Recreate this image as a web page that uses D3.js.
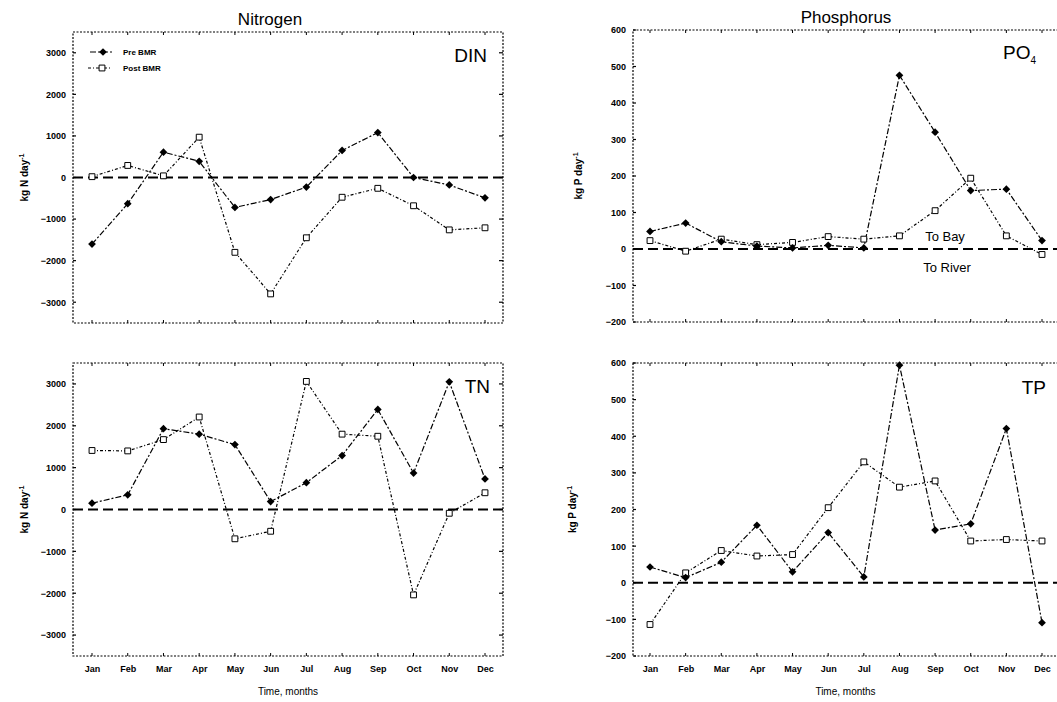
<!DOCTYPE html>
<html>
<head>
<meta charset="utf-8">
<script src="https://cdn.jsdelivr.net/npm/d3@7"></script>
<style>
  body { margin: 0; background: #fff; }
  svg { font-family: "Liberation Sans", Arial, sans-serif; }
  .tick-label { font-size: 9px; font-weight: bold; }
</style>
</head>
<body>
<svg id="chart" width="1057" height="702"></svg>
<script>
// months on the x axis
var months = ["Jan", "Feb", "Mar", "Apr", "May", "Jun", "Jul", "Aug", "Sep", "Oct", "Nov", "Dec"];

// y tick values
var nTicks = [-3000, -2000, -1000, 0, 1000, 2000, 3000];
var pTicks = [-200, -100, 0, 100, 200, 300, 400, 500, 600];

// DIN, kg N/day
var dinPre  = [-1600, -630, 610, 390, -720, -530, -230, 650, 1080, 0, -180, -490];
var dinPost = [20, 290, 40, 970, -1800, -2800, -1450, -475, -260, -680, -1260, -1210];

// TN, kg N/day
var tnPre  = [150, 350, 1930, 1800, 1550, 190, 640, 1290, 2390, 870, 3050, 730];
var tnPost = [1410, 1400, 1670, 2210, -700, -520, 3060, 1800, 1750, -2040, -90, 400];

// PO4, kg P/day
var po4Pre  = [48, 71, 20, 8, 3, 10, 3, 476, 320, 160, 164, 23];
var po4Post = [23, -6, 27, 12, 18, 34, 27, 36, 105, 194, 36, -15];

// TP, kg P/day
var tpPre  = [43, 14, 56, 157, 30, 137, 16, 594, 144, 161, 421, -109];
var tpPost = [-114, 27, 88, 73, 77, 205, 330, 261, 278, 114, 118, 114];

var legendNames = ["Pre BMR", "Post BMR"];

var svg = d3.select("#chart");

// titles
svg.append("text").attr("x", 270).attr("y", 25).attr("text-anchor", "middle")
  .style("font-size", "17px").text("Nitrogen");
svg.append("text").attr("x", 846).attr("y", 23).attr("text-anchor", "middle")
  .style("font-size", "17px").text("Phosphorus");

var panels = [
  { box: [73, 32, 503, 323], xr: [92, 485], yd: [-3500, 3500], ticks: nTicks,
    pre: dinPre, post: dinPost, label: "DIN", labelPos: [487, 62], unit: "N",
    yLabelX: 28, xLabels: false, legend: true },
  { box: [73, 363, 503, 656], xr: [92, 485], yd: [-3500, 3500], ticks: nTicks,
    pre: tnPre, post: tnPost, label: "TN", labelPos: [490, 393], unit: "N",
    yLabelX: 28, xLabels: true },
  { box: [633, 30, 1062, 322], xr: [650, 1042], yd: [-200, 600], ticks: pTicks,
    pre: po4Pre, post: po4Post, label: "PO", sub: "4", labelPos: [1036, 59], unit: "P",
    yLabelX: 582, xLabels: false, bayRiver: true },
  { box: [633, 363, 1062, 656], xr: [650, 1042], yd: [-200, 600], ticks: pTicks,
    pre: tpPre, post: tpPost, label: "TP", labelPos: [1046, 394], unit: "P",
    yLabelX: 576, xLabels: true }
];

panels.forEach(drawPanel);

function drawPanel(p) {
  var x0 = p.box[0], y0 = p.box[1], x1 = p.box[2], y1 = p.box[3];
  var g = svg.append("g");

  var x = d3.scalePoint().domain(months).range(p.xr);
  var y = d3.scaleLinear().domain(p.yd).range([y1, y0]);

  // dotted frame
  g.append("rect")
    .attr("x", x0).attr("y", y0).attr("width", x1 - x0).attr("height", y1 - y0)
    .attr("fill", "none").attr("stroke", "#000").attr("stroke-width", 1.2)
    .attr("stroke-dasharray", "2,1.5");

  // y axis (left) + inward ticks on the right
  var yAxis = d3.axisLeft(y).tickValues(p.ticks).tickFormat(d3.format("d")).tickSize(0).tickPadding(7);
  var ya = g.append("g").attr("transform", "translate(" + x0 + ",0)").call(yAxis);
  ya.select(".domain").remove();
  ya.selectAll("text").attr("class", "tick-label").style("font-family", null).style("font-size", null);
  g.selectAll(".rtick").data(p.ticks).enter().append("line")
    .attr("x1", x1 - 4).attr("x2", x1).attr("y1", d => y(d)).attr("y2", d => y(d))
    .attr("stroke", "#000").attr("stroke-width", 1.2);
  g.selectAll(".ltick").data(p.ticks).enter().append("line")
    .attr("x1", x0).attr("x2", x0 + 3).attr("y1", d => y(d)).attr("y2", d => y(d))
    .attr("stroke", "#000").attr("stroke-width", 1.2);

  // month ticks on top and bottom
  g.selectAll(".ttick").data(months).enter().append("line")
    .attr("x1", d => x(d)).attr("x2", d => x(d)).attr("y1", y0).attr("y2", y0 + 3)
    .attr("stroke", "#000");
  g.selectAll(".btick").data(months).enter().append("line")
    .attr("x1", d => x(d)).attr("x2", d => x(d)).attr("y1", y1 - 3).attr("y2", y1)
    .attr("stroke", "#000");

  if (p.xLabels) {
    var xAxis = d3.axisBottom(x).tickSize(0).tickPadding(10);
    var xa = g.append("g").attr("transform", "translate(0," + y1 + ")").call(xAxis);
    xa.select(".domain").remove();
    xa.selectAll("text").attr("class", "tick-label").style("font-family", null).style("font-size", null);
    g.append("text").attr("x", (x0 + x1) / 2 + (x0 > 500 ? -2 : 0)).attr("y", 695)
      .attr("text-anchor", "middle").style("font-size", "10px").text("Time, months");
  }

  // zero reference line
  g.append("line").attr("x1", x0).attr("x2", x1).attr("y1", y(0)).attr("y2", y(0))
    .attr("stroke", "#000").attr("stroke-width", 2).attr("stroke-dasharray", "10,5");

  // y label
  var yl = g.append("text")
    .attr("transform", "translate(" + p.yLabelX + "," + ((y0 + y1) / 2) + ") rotate(-90)")
    .attr("text-anchor", "middle").style("font-size", "10px").style("font-weight", "bold");
  yl.append("tspan").text("kg " + p.unit + " day");
  yl.append("tspan").attr("dy", -4).style("font-size", "7px").text("-1");

  // series lines
  var line = d3.line().x((d, i) => x(months[i])).y(d => y(d));
  g.append("path").datum(p.post).attr("d", line).attr("fill", "none")
    .attr("stroke", "#000").attr("stroke-width", 1.2).attr("stroke-dasharray", "3,2,1,2");
  g.append("path").datum(p.pre).attr("d", line).attr("fill", "none")
    .attr("stroke", "#000").attr("stroke-width", 1.2).attr("stroke-dasharray", "6,2,2,2");

  var diamond = d3.symbol().type(d3.symbolSquare).size(30);
  var square = d3.symbol().type(d3.symbolSquare).size(34);
  g.selectAll(".post").data(p.post).enter().append("path")
    .attr("d", square)
    .attr("transform", (d, i) => "translate(" + x(months[i]) + "," + y(d) + ")")
    .attr("fill", "#fff").attr("stroke", "#000").attr("stroke-width", 1);
  g.selectAll(".pre").data(p.pre).enter().append("path")
    .attr("d", diamond)
    .attr("transform", (d, i) => "translate(" + x(months[i]) + "," + y(d) + ") rotate(45)")
    .attr("fill", "#000");

  // panel label
  var lab = g.append("text").attr("x", p.labelPos[0]).attr("y", p.labelPos[1])
    .attr("text-anchor", "end").style("font-size", "19px").text(p.label);
  if (p.sub) {
    lab.append("tspan").attr("dy", 5).style("font-size", "10px").text(p.sub);
  }

  if (p.bayRiver) {
    g.append("text").attr("x", 945).attr("y", y(0) - 8).attr("text-anchor", "middle")
      .style("font-size", "13px").text("To Bay");
    g.append("text").attr("x", 947).attr("y", y(0) + 23).attr("text-anchor", "middle")
      .style("font-size", "13px").text("To River");
  }

  if (p.legend) {
    var lg = g.append("g").attr("transform", "translate(90,52)");
    lg.append("line").attr("x1", 0).attr("x2", 22).attr("y1", 0).attr("y2", 0)
      .attr("stroke", "#000").attr("stroke-width", 1.2).attr("stroke-dasharray", "6,2,2,2");
    lg.append("path").attr("d", diamond).attr("transform", "translate(13,0) rotate(45)").attr("fill", "#000");
    lg.append("text").attr("x", 33).attr("y", 3).style("font-size", "8px").style("font-weight", "bold")
      .text(legendNames[0]);
    lg.append("line").attr("x1", -2).attr("x2", 22).attr("y1", 16).attr("y2", 16)
      .attr("stroke", "#000").attr("stroke-width", 1).attr("stroke-dasharray", "3,2,1,2");
    lg.append("path").attr("d", square).attr("transform", "translate(12,16)")
      .attr("fill", "#fff").attr("stroke", "#000");
    lg.append("text").attr("x", 33).attr("y", 19).style("font-size", "8px").style("font-weight", "bold")
      .text(legendNames[1]);
  }
}
</script>
</body>
</html>
